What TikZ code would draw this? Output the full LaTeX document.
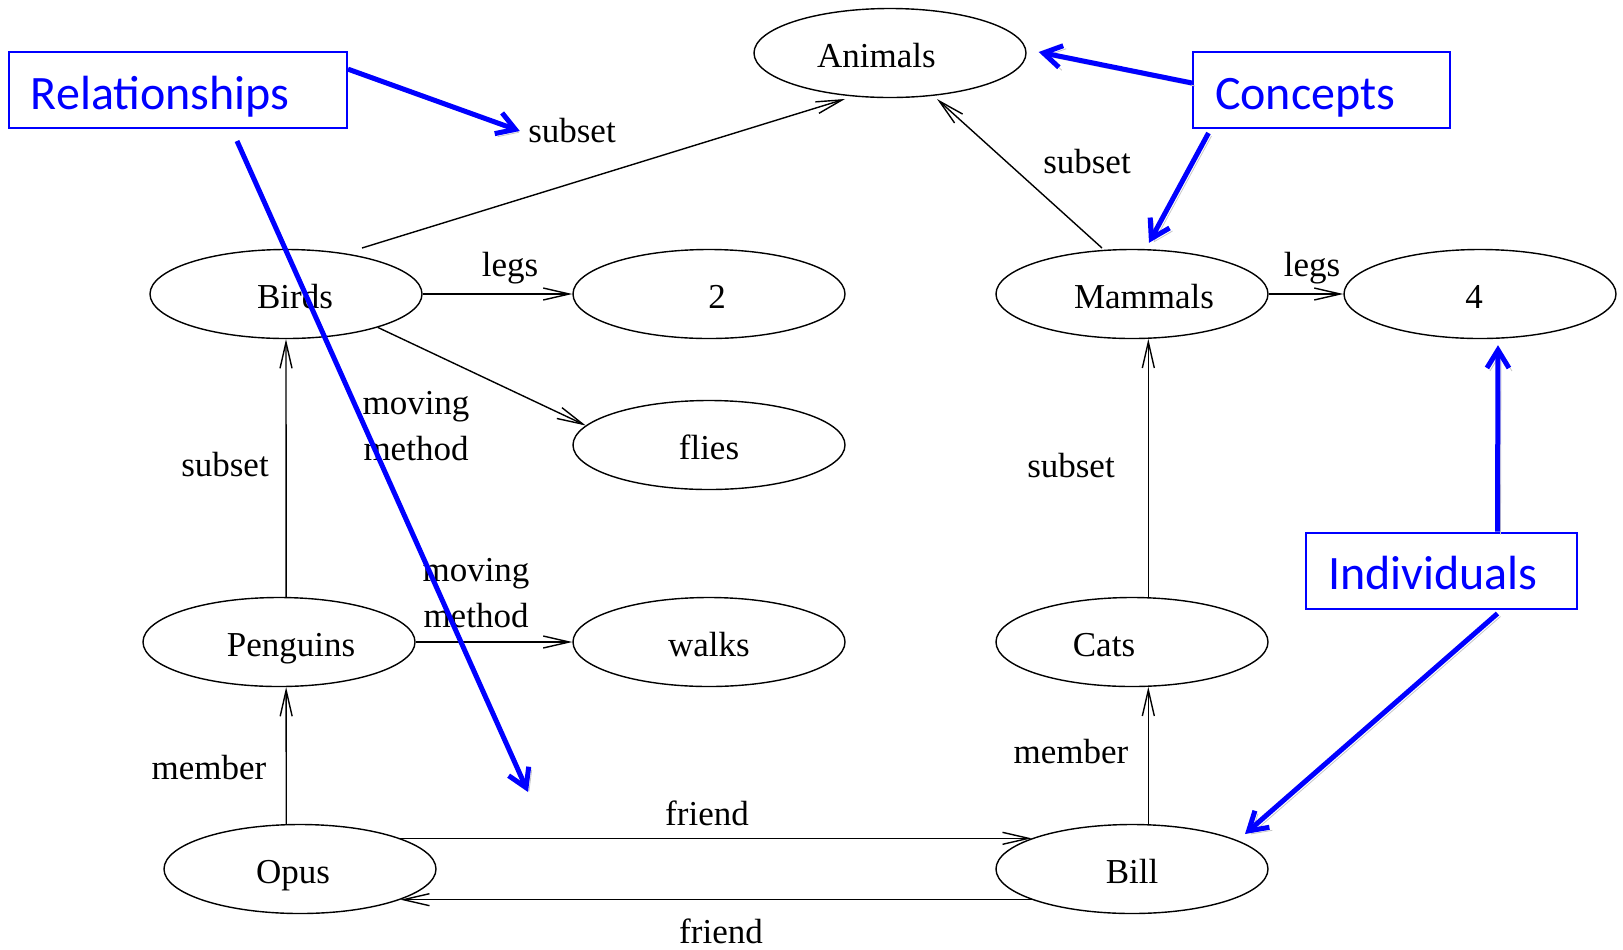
\documentclass[tikz,border=0pt]{standalone}
\usepackage{fontspec}
\setmainfont{Liberation Serif}
\newfontfamily\notefont{Carlito}
\usetikzlibrary{arrows.meta,shapes.geometric}

\begin{document}
\begin{tikzpicture}[x=0.5pt,y=-0.5pt,
  concept/.style={ellipse,draw,line width=0.7pt,minimum width=136pt,minimum height=44.5pt,
    inner sep=0pt,text height=14pt,text depth=0pt,font=\fontsize{17.5}{21}\selectfont},
  rel/.style={line width=0.7pt,-{Straight Barb[length=13pt,width=6pt]}},
  lbl/.style={font=\fontsize{17.5}{22.75}\selectfont,align=center,inner sep=0pt},
  note/.style={draw=blue,line width=1pt,text=blue,font=\notefont\fontsize{24}{28}\selectfont,
    inner ysep=0pt,inner xsep=11pt,text height=28.5pt,text depth=9.5pt,align=left},
  pointer/.style={blue,line width=2.5pt,-{Straight Barb[length=9pt,width=11pt]},
    preaction={draw=black!22,transform canvas={shift={(1.5pt,-1.5pt)}}}}]
\useasboundingbox (0,0) rectangle (1623,949);

% concepts and individuals
\node[concept] (Animals) at (890,53) {Animals\hspace*{13.5pt}};
\node[concept] (Birds) at (286,294) {\hspace*{9pt}Birds};
\node[concept] (two) at (709,294) {\hspace*{8pt}2};
\node[concept] (flies) at (709,445) {flies};
\node[concept] (Mammals) at (1132,294) {\hspace*{12pt}Mammals};
\node[concept] (four) at (1480,294) {4\hspace*{6pt}};
\node[concept] (Penguins) at (279,642) {\hspace*{12pt}Penguins};
\node[concept] (walks) at (709,642) {walks};
\node[concept] (Cats) at (1132,642) {Cats\hspace*{28pt}};
\node[concept] (Opus) at (300,869) {Opus\hspace*{7pt}};
\node[concept] (Bill) at (1132,869) {Bill};

% relations
\draw[rel] ([shift={(76,-46)}]Birds.center) -- ([shift={(-45,46)}]Animals.center);
\draw[rel] ([shift={(-30,-46)}]Mammals.center) -- ([shift={(47,46)}]Animals.center);
\draw[rel] (Birds.east) -- (two.west);
\draw[rel] (Birds.-20) -- (flies.171);
\draw[rel] (Mammals.east) -- (four.west);
\draw[rel] (Penguins.81) -- (Birds.south);
\draw[rel] (Penguins.east) -- (walks.west);
\draw[rel] (Opus.107) -- (Penguins.-81);
\draw[rel] (Cats.70.5) -- (Mammals.-70.5);
\draw[rel] (Bill.70.5) -- (Cats.-70.5);
\draw[rel] (Opus.17) -- (Bill.163);
\draw[rel] (Bill.-163) -- (Opus.-17);

\node[lbl] (sub1) at (572,131) {subset};
\node[lbl] (sub2) at (1087,162) {subset};
\node[lbl] (legs1) at (510,268) {legs};
\node[lbl] (legs2) at (1312,268) {legs};
\node[lbl] (mm1) at (416,426) {moving\\method};
\node[lbl] (sub3) at (225,465) {subset};
\node[lbl] (mm2) at (476,593) {moving\\method};
\node[lbl] (sub4) at (1071,466) {subset};
\node[lbl] (mem1) at (209,768) {member};
\node[lbl] (mem2) at (1071,752) {member};
\node[lbl] (fr1) at (707,813) {friend};
\node[lbl] (fr2) at (721,931) {friend};

% blue notes
\node[note,text width=147pt] (relbox) at (178,90) {Relationships};
\node[note,text width=106.5pt] (conbox) at (1321.5,90) {Concepts};
\node[note,text width=113.5pt] (indbox) at (1441.5,570.5) {Individuals};
\coordinate (relend) at (528,792);

\draw[pointer] (relbox.7) -- ([xshift=-4pt]sub1.west);
\draw[pointer] ([shift={(59,12)}]relbox.south) -- (relend);
\draw[pointer] ([shift={(0,-7)}]conbox.west) -- ([shift={(12,-1)}]Animals.east);
\draw[pointer] ([shift={(-113,4)}]conbox.south) -- ([shift={(17,-6)}]Mammals.north);
\draw[pointer] ([shift={(56,0)}]indbox.north) -- ([shift={(18,6)}]four.south);
\draw[pointer] ([shift={(56,4)}]indbox.south) -- ([shift={(113,-35)}]Bill.center);
\end{tikzpicture}
\end{document}
